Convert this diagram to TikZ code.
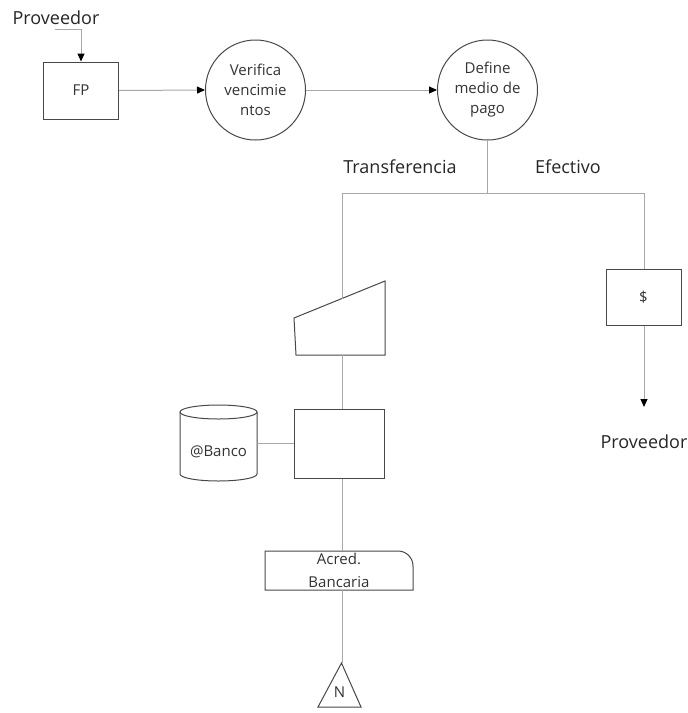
\documentclass[tikz,border=0pt]{standalone}
\usepackage{fontspec}
\setmainfont{Open Sans}
\usetikzlibrary{arrows.meta}
\definecolor{edge}{HTML}{484848}
\definecolor{wire}{HTML}{A8A8A8}
\tikzset{
  shapeline/.style={draw=edge, line width=1pt},
  conn/.style={draw=wire, line width=1pt},
  flow/.style={conn, -{Triangle[length=8pt,width=7pt,color=black]}},
  boxtxt/.style={font=\fontsize{15}{20}\selectfont, text=black!80, align=center},
  lbl/.style={font=\fontsize{18}{22}\selectfont, text=black!85},
  procbox/.style={shapeline, rectangle, inner sep=0pt},
  bubble/.style={shapeline, circle, minimum size=100pt, inner sep=0pt, boxtxt},
}
\begin{document}
\begin{tikzpicture}[x=1pt,y=-1pt]
  \fill[white] (0,0) rectangle (688,713);
  \useasboundingbox (0,0) rectangle (688,713);

  % source and first steps
  \node[lbl] (src) at (56,18) {Proveedor};
  \coordinate (srcend) at (55,29);
  \node[procbox, minimum width=75pt, minimum height=57pt, boxtxt] (fp) at (81,90.5) {FP};
  \node[bubble] (verif) at (255.5,90) {Verifica\\vencimie\\ntos};
  \node[bubble] (define) at (487.5,90) {Define\\medio de\\pago};
  \draw[flow] (srcend) -| (fp.north);
  \draw[flow] (fp.east) -- (verif.west);
  \draw[flow] (verif.east) -- (define.west);

  % branch on payment method
  \coordinate (split) at (487.5,193);
  \coordinate (trunk) at (342,193);
  \coordinate (cashline) at (644,193);
  \draw[conn] (define.south) -- (split);
  \draw[conn] (trunk) -- (cashline);
  \node[lbl] (ttrans) at (400,167) {Transferencia};
  \node[lbl] (tcash) at (568,167) {Efectivo};

  % manual input
  \draw[shapeline] (294,318) -- (385,281) -- (385,355) -- (296,355) -- cycle;
  \coordinate (mtop) at (342,298.5);
  \coordinate (mbot) at (342,355);
  \draw[conn] (trunk) -- (mtop);

  % process box
  \node[procbox, minimum width=90pt, minimum height=69pt] (proc) at (339,443.5) {};
  \draw[conn] (mbot) -- (proc.north -| mbot);

  % bank storage
  \draw[shapeline] (180,412) -- (180,474)
    arc[start angle=180, end angle=0, x radius=38.5, y radius=7] -- (257,412);
  \draw[shapeline] (218.5,412) ellipse[x radius=38.5, y radius=7];
  \node[boxtxt] (bank) at (218.5,452) {@Banco};
  \coordinate (bankport) at (257,443);
  \draw[conn] (bankport) -- (proc.west |- bankport);

  % bank credit output
  \draw[shapeline] (265,590) -- (265,551) -- (398,551)
    arc[start angle=270, end angle=360, radius=15] -- (413,590) -- cycle;
  \node[boxtxt, font=\fontsize{15}{23}\selectfont] (acred) at (339,570) {Acred.\\Bancaria};
  \coordinate (acredtop) at (342,551);
  \coordinate (acredbot) at (342,590);
  \draw[conn] (proc.south -| mbot) -- (acredtop);

  % off-page connector
  \draw[shapeline] (341.5,663) -- (361,707) -- (318,707) -- cycle;
  \node[boxtxt] (off) at (339.5,692) {N};
  \coordinate (offtop) at (342,663);
  \draw[conn] (acredbot) -- (offtop);

  % cash branch
  \node[procbox, minimum width=75pt, minimum height=56pt, boxtxt] (cash) at (643.5,297) {\$};
  \draw[conn] (cashline) -- (cash.north -| cashline);
  \coordinate (payee) at (644,407);
  \draw[flow] (cash.south -| cashline) -- (payee);
  \node[lbl] (dest) at (644,442) {Proveedor};
\end{tikzpicture}
\end{document}
